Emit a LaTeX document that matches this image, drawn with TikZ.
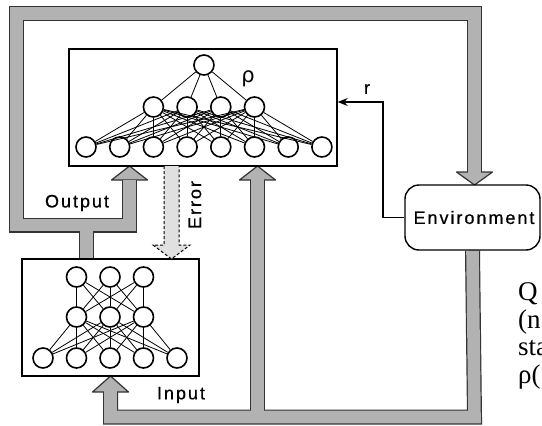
\documentclass[tikz,border=0pt]{standalone}
\usepackage{fontspec}
\setmainfont{Liberation Serif}
\newfontfamily\labelfont[LetterSpace=11,FakeBold=0.6]{Liberation Sans}
\newfontfamily\greekfont{DejaVu Sans}
\usepackage{tikz}
\usetikzlibrary{arrows.meta,calc,backgrounds}

% the broad signal pipes (drawn twice: rim, then core)
\newcommand{\pipes}[1]{%
  \draw[#1] (actor.north -| 86.5,0) -- (86.5,225);
  \draw[#1] (129.5,180) -- (129.5,225) -- (16.5,225) -- (16.5,13.5) -- (474.5,13.5) -- (474.5,172);
  \draw[#1] (env.south) -- (474.5,417) -- (110.5,417) -- (110.5,392);
  \draw[#1] (257.5,417) -- (257.5,180);
}
\newcommand{\pipehead}[3]{%
  \filldraw[fill=black!30,draw=black!80,line width=1.2pt,line join=round]
    (#1-18,#2) -- (#1,#3) -- (#1+18,#2) -- cycle;
}

\begin{document}
\begin{tikzpicture}[x=1pt,y=-1pt,
    unit/.style={circle,draw,line width=1.6pt,fill=white,minimum size=20pt,inner sep=0pt},
    wire/.style={line width=0.8pt},
    box/.style={draw,line width=1.4pt,inner sep=0pt},
    tag/.style={font=\labelfont\fontsize{18}{20}\selectfont,inner sep=0pt}]
    \useasboundingbox (0,0) rectangle (542,426);

    \node [box,minimum width=268pt,minimum height=117pt] (critic) at (203,107.5) {};
    \node [box,minimum width=177pt,minimum height=117pt] (actor) at (110.5,317.5) {};
    \node [box,rounded corners=14pt,fill=white,minimum width=135pt,minimum height=65pt,
        font=\labelfont\fontsize{18}{20}\selectfont] (env) at (472.5,217.5) {\hspace*{3pt}Environment};

    % upper net: 8 - 4 - 1
    \node [unit] (c0) at (203.95,65) {};
    \foreach \i in {1,...,4}
        \node [unit] (cm\i) at ({86+33.7*(\i+1)},107) {};
    \foreach \i in {1,...,8}
        \node [unit] (cb\i) at ({86+33.7*(\i-1)},147) {};
    \foreach \i in {1,...,4} {
        \draw [wire] (c0) -- (cm\i);
        \foreach \j in {1,...,8}
            \draw [wire] (cm\i) -- (cb\j);
    }

    % lower net: 5 - 3 - 3
    \foreach \i in {1,...,3} {
        \node [unit] (at\i) at ({76.5+33.5*(\i-1)},277) {};
        \node [unit] (am\i) at ({76.5+33.5*(\i-1)},317) {};
    }
    \foreach \i in {1,...,5}
        \node [unit] (ab\i) at ({43+33.5*(\i-1)},358) {};
    \foreach \i in {1,...,3} {
        \foreach \j in {1,...,3}
            \draw [wire] (at\i) -- (am\j);
        \foreach \j in {1,...,5}
            \draw [wire] (am\i) -- (ab\j);
    }

    \begin{pgfonlayer}{background}
        \pipes{line width=15pt,black!80,line join=miter}
        \pipehead{129.5}{180}{166}
        \pipehead{257.5}{180}{166}
        \pipehead{110.5}{392}{376}
        \pipehead{474.5}{172}{185}
        \pipes{line width=12.6pt,black!30,line join=miter,shorten >=-1.5pt}
    \end{pgfonlayer}

    % error signal
    \fill [black!12] (164,166) rectangle (179,246);
    \fill [black!12] (153,245) -- (171.5,259) -- (190,245) -- cycle;
    \draw [line width=1pt,dash pattern=on 3pt off 2pt]
        (164,166) -- (164,245) -- (153,245) -- (171.5,259) -- (190,245) -- (179,245) -- (179,166);

    % reward
    \draw [line width=1.2pt,-{Stealth[length=10pt,width=8pt]}]
        (env.west) -- (383,217.5) -- (383,102) -- (critic.east |- 0,102);

    \node [tag] (outlbl) at (77,203) {Output};
    \node [tag] (inlbl) at (181,395) {Input};
    \node [tag,rotate=90] (errlbl) at (195,205) {Error};
    \node [tag] (rlbl) at (367,89) {r};
    \node [inner sep=0pt,font=\greekfont\fontsize{21}{24}\selectfont] (rho) at (248,79) {ρ};

    \node [anchor=base west,inner sep=0pt,font=\fontsize{27}{28}\selectfont] (q1) at (518,300) {Q};
    \node [anchor=base west,inner sep=0pt,font=\fontsize{27}{28}\selectfont] (q2) at (518,328) {(n};
    \node [anchor=base west,inner sep=0pt,font=\fontsize{27}{28}\selectfont] (q3) at (518,355) {sta};
    \node [anchor=base west,inner sep=0pt,font=\fontsize{27}{28}\selectfont] (q4) at (518,383) {ρ(};
\end{tikzpicture}
\end{document}
